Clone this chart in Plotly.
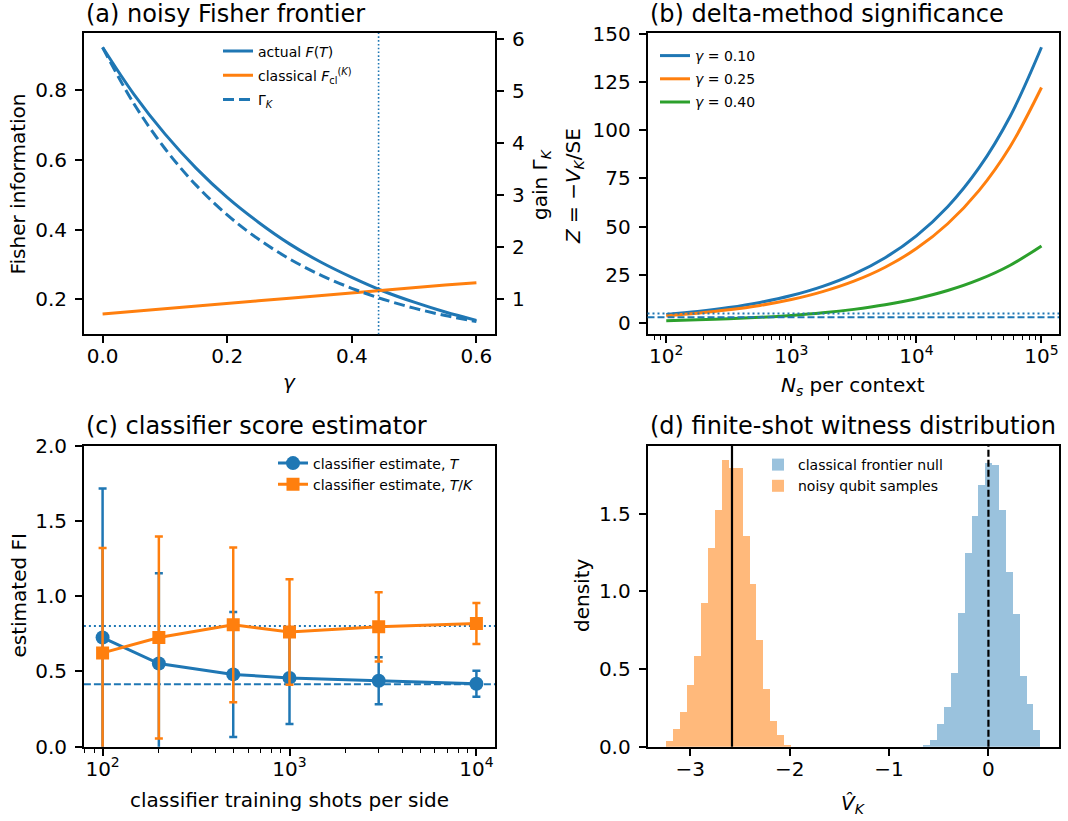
import plotly.graph_objects as go

W, H = 1068, 821
FONT = "DejaVu Sans"
C0, C1, C2 = "#1f77b4", "#ff7f0e", "#2ca02c"

# ---------------- data ----------------
# (a) noisy Fisher frontier
gamma = [0.0, 0.05, 0.10, 0.15, 0.20, 0.25, 0.30, 0.35, 0.40, 0.45, 0.50, 0.55, 0.60]
F_actual = [0.922, 0.788, 0.674, 0.576, 0.492, 0.421, 0.359, 0.307, 0.263, 0.224, 0.192, 0.164, 0.140]
F_classical = [0.158, 0.166, 0.173, 0.181, 0.188, 0.196, 0.203, 0.211, 0.218, 0.226, 0.233, 0.241, 0.248]
gain_K = [5.835, 4.761, 3.893, 3.189, 2.617, 2.151, 1.770, 1.459, 1.205, 0.995, 0.823, 0.681, 0.565]
gamma_star = 0.443

# (b) delta-method significance
Ns = [100, 178, 316, 562, 1000, 1778, 3162, 5623, 10000, 17783, 31623, 56234, 100000]
Z_g010 = [4.52, 6.03, 8.04, 10.72, 14.29, 19.06, 25.42, 33.90, 45.2, 60.27, 80.37, 107.2, 142.9]
Z_g025 = [3.86, 5.15, 6.86, 9.15, 12.21, 16.28, 21.71, 28.95, 38.6, 51.47, 68.64, 91.53, 122.06]
Z_g040 = [1.265, 1.687, 2.25, 3.0, 4.0, 5.33, 7.11, 9.48, 12.65, 16.87, 22.5, 30.0, 40.0]
Z_5sigma = 5.0
Z_3sigma = 3.0

# (c) classifier score estimator
shots = [100, 200, 500, 1000, 3000, 10000]
est_T = [0.725, 0.552, 0.480, 0.457, 0.438, 0.418]
err_T = [0.99, 0.60, 0.415, 0.307, 0.156, 0.086]
est_TK = [0.623, 0.725, 0.809, 0.762, 0.796, 0.818]
err_TK = [0.696, 0.67, 0.514, 0.35, 0.23, 0.136]
ref_TK = 0.802
ref_T = 0.415

# (d) finite-shot witness distribution
null_lo, null_w = -0.659, 0.0692
null_density = [0.015, 0.047, 0.15, 0.256, 0.48, 0.867, 1.254, 1.492, 1.686, 1.828,
                1.82, 1.525, 1.131, 0.856, 0.46, 0.28, 0.114]
qubit_lo, qubit_w = -3.245, 0.0697
qubit_density = [0.037, 0.12, 0.224, 0.398, 0.589, 0.927, 1.286, 1.527, 1.849, 1.80,
                 1.80, 1.359, 1.049, 0.688, 0.376, 0.166, 0.077, 0.011]
V_observed = -2.58
V_null = 0.0


def X(px):
    return px / W


def Y(py):
    return 1 - py / H


fig = go.Figure()

# ---- (a)
fig.add_trace(go.Scatter(x=gamma, y=F_actual, mode="lines", line=dict(color=C0, width=3, shape="spline"),
                         name="actual <i>F</i>(<i>T</i>)", xaxis="x", yaxis="y", legend="legend",
                         legendgroup="a1"))
fig.add_trace(go.Scatter(x=gamma, y=F_classical, mode="lines", line=dict(color=C1, width=3),
                         name="classical <i>F</i><sub>cl</sub><sup>(<i>K</i>)</sup>", xaxis="x", yaxis="y",
                         legend="legend", legendgroup="a2"))
fig.add_trace(go.Scatter(x=gamma, y=gain_K, mode="lines",
                         line=dict(color=C0, width=3, dash="11px,5px", shape="spline"),
                         name="Γ<sub><i>K</i></sub>", xaxis="x", yaxis="y2", legend="legend",
                         legendgroup="a3"))

# ---- (b)
for zz, col, lab in [(Z_g010, C0, "0.10"), (Z_g025, C1, "0.25"), (Z_g040, C2, "0.40")]:
    fig.add_trace(go.Scatter(x=Ns, y=zz, mode="lines", line=dict(color=col, width=3, shape="spline"),
                             name="<i>γ</i> = " + lab, xaxis="x2", yaxis="y3", legend="legend2",
                             legendgroup="b" + lab))

# ---- (c)
fig.add_trace(go.Scatter(x=shots, y=est_T, mode="lines+markers",
                         line=dict(color=C0, width=3), marker=dict(symbol="circle", size=14, color=C0),
                         error_y=dict(type="data", array=err_T, color=C0, thickness=2.5, width=4),
                         name="classifier estimate, <i>T</i>", xaxis="x3", yaxis="y4", legend="legend3"))
fig.add_trace(go.Scatter(x=shots, y=est_TK, mode="lines+markers",
                         line=dict(color=C1, width=3), marker=dict(symbol="square", size=13, color=C1),
                         error_y=dict(type="data", array=err_TK, color=C1, thickness=2.5, width=4),
                         name="classifier estimate, <i>T</i>/<i>K</i>", xaxis="x3", yaxis="y4", legend="legend3"))

# ---- (d)
null_x = [null_lo + (i + 0.5) * null_w for i in range(len(null_density))]
qubit_x = [qubit_lo + (i + 0.5) * qubit_w for i in range(len(qubit_density))]
fig.add_trace(go.Bar(x=null_x, y=null_density, width=null_w, marker=dict(color="rgba(31,119,180,0.45)", line=dict(width=0)),
                     name="classical frontier null", xaxis="x4", yaxis="y5", legend="legend4"))
fig.add_trace(go.Bar(x=qubit_x, y=qubit_density, width=qubit_w, marker=dict(color="rgba(255,127,14,0.55)", line=dict(width=0)),
                     name="noisy qubit samples", xaxis="x4", yaxis="y5", legend="legend4"))

# reference lines
shapes = [
    dict(type="line", xref="x", yref="y domain", x0=gamma_star, x1=gamma_star, y0=0, y1=1,
         line=dict(color=C0, width=1.6, dash="1.6px,2.2px")),
    dict(type="line", xref="x2 domain", yref="y3", x0=0, x1=1, y0=Z_5sigma, y1=Z_5sigma,
         line=dict(color=C0, width=2, dash="2px,3px")),
    dict(type="line", xref="x2 domain", yref="y3", x0=0, x1=1, y0=Z_3sigma, y1=Z_3sigma,
         line=dict(color=C0, width=2, dash="7px,3px")),
    dict(type="line", xref="x3 domain", yref="y4", x0=0, x1=1, y0=ref_TK, y1=ref_TK,
         line=dict(color=C0, width=2, dash="2px,3px"), layer="below"),
    dict(type="line", xref="x3 domain", yref="y4", x0=0, x1=1, y0=ref_T, y1=ref_T,
         line=dict(color=C0, width=2, dash="7px,3px"), layer="below"),
    dict(type="line", xref="x4", yref="y5 domain", x0=V_observed, x1=V_observed, y0=0, y1=1,
         line=dict(color="black", width=2.2)),
    dict(type="line", xref="x4", yref="y5 domain", x0=V_null, x1=V_null, y0=0, y1=1,
         line=dict(color="black", width=2.2, dash="7px,3px")),
]

ax_common = dict(showline=True, linecolor="black", linewidth=1.6, mirror=True, ticks="outside",
                 ticklen=7, tickwidth=1.6, tickcolor="black", showgrid=False, zeroline=False,
                 tickfont=dict(family=FONT, size=20, color="black"), automargin=False,
                 ticklabelstandoff=4)
xax_common = dict(ax_common, ticklabelstandoff=-4)
minor_log = dict(ticks="outside", ticklen=4, tickwidth=1.2, tickcolor="black", showgrid=False)

xa_dom = [X(83.9), X(495.1)]
xb_dom = [X(647.5), X(1059)]
top_dom = [Y(334.3), Y(33)]
bot_dom = [Y(746.7), Y(445.5)]

minor_b = [m * 10 ** e for e in range(1, 6) for m in range(2, 10)]

fig.update_layout(
    width=W, height=H, margin=dict(l=0, r=0, t=0, b=0),
    paper_bgcolor="white", plot_bgcolor="white",
    font=dict(family=FONT, color="black"),
    barmode="overlay", bargap=0,
    xaxis=dict(xax_common, domain=xa_dom, anchor="y", range=[-0.03, 0.63],
               tickvals=[0, 0.2, 0.4, 0.6], ticktext=["0.0", "0.2", "0.4", "0.6"]),
    yaxis=dict(ax_common, domain=top_dom, anchor="x", range=[0.1, 0.963],
               tickvals=[0.2, 0.4, 0.6, 0.8], ticktext=["0.2", "0.4", "0.6", "0.8"]),
    yaxis2=dict(ax_common, overlaying="y", side="right", anchor="x", range=[0.32, 6.115],
                tickvals=[1, 2, 3, 4, 5, 6], mirror=False),
    xaxis2=dict(xax_common, domain=xb_dom, anchor="y3", type="log", range=[1.85, 5.14],
                tickvals=[100, 1000, 10000, 100000],
                ticktext=["10<sup>2</sup>", "10<sup>3</sup>", "10<sup>4</sup>", "10<sup>5</sup>"],
                minor=dict(minor_log, tickvals=minor_b)),
    yaxis3=dict(ax_common, domain=top_dom, anchor="x2", range=[-5.8, 150.3],
                tickvals=[0, 25, 50, 75, 100, 125, 150]),
    xaxis3=dict(xax_common, domain=xa_dom, anchor="y4", type="log", range=[1.9, 4.1],
                tickvals=[100, 1000, 10000],
                ticktext=["10<sup>2</sup>", "10<sup>3</sup>", "10<sup>4</sup>"],
                minor=dict(minor_log, tickvals=minor_b)),
    yaxis4=dict(ax_common, domain=bot_dom, anchor="x3", range=[0, 2],
                tickvals=[0, 0.5, 1.0, 1.5, 2.0], ticktext=["0.0", "0.5", "1.0", "1.5", "2.0"]),
    xaxis4=dict(xax_common, domain=xb_dom, anchor="y5", range=[-3.43, 0.71],
                tickvals=[-3, -2, -1, 0], ticktext=["−3", "−2", "−1", "0"]),
    yaxis5=dict(ax_common, domain=bot_dom, anchor="x4", range=[0, 1.94],
                tickvals=[0, 0.5, 1.0, 1.5], ticktext=["0.0", "0.5", "1.0", "1.5"]),
    shapes=shapes,
)

leg_common = dict(font=dict(family=FONT, size=14, color="black"), bgcolor="rgba(0,0,0,0)",
                  xanchor="left", yanchor="top", borderwidth=0)
fig.update_layout(
    legend=dict(leg_common, x=X(218), y=Y(35.5), tracegroupgap=3),
    legend2=dict(leg_common, x=X(655), y=Y(40), tracegroupgap=2),
    legend3=dict(leg_common, x=X(273), y=Y(447.5)),
    legend4=dict(leg_common, x=X(758), y=Y(449)),
)

ann = []
titles = [("(a) noisy Fisher frontier", 83.9, 14), ("(b) delta-method significance", 647.5, 14),
          ("(c) classifier score estimator", 83.9, 426), ("(d) finite-shot witness distribution", 647.5, 426)]
for t, x, y in titles:
    ann.append(dict(text=t, x=X(x), y=Y(y), xref="paper", yref="paper", xanchor="left", yanchor="middle",
                    showarrow=False, font=dict(family=FONT, size=24, color="black")))

labels = [
    ("<i>γ</i>", 289.5, 382, 0),
    ("<i>N</i><sub><i>s</i></sub> per context", 853, 386, 0),
    ("classifier training shots per side", 289.5, 800, 0),
    ("<i>V̂</i><sub><i>K</i></sub>", 853, 804, 0),
    ("Fisher information", 17.5, 184, -90),
    ("gain Γ<sub><i>K</i></sub>", 541, 184, -90),
    ("<i>Z</i> = −<i>V</i><sub><i>K</i></sub>/SE", 574, 186, -90),
    ("estimated FI", 18.5, 596, -90),
    ("density", 582, 596, -90),
]
for t, x, y, a in labels:
    ann.append(dict(text=t, x=X(x), y=Y(y), xref="paper", yref="paper", xanchor="center", yanchor="middle",
                    textangle=a, showarrow=False, font=dict(family=FONT, size=20, color="black")))
fig.update_layout(annotations=ann)

fig.write_html("out.html")
